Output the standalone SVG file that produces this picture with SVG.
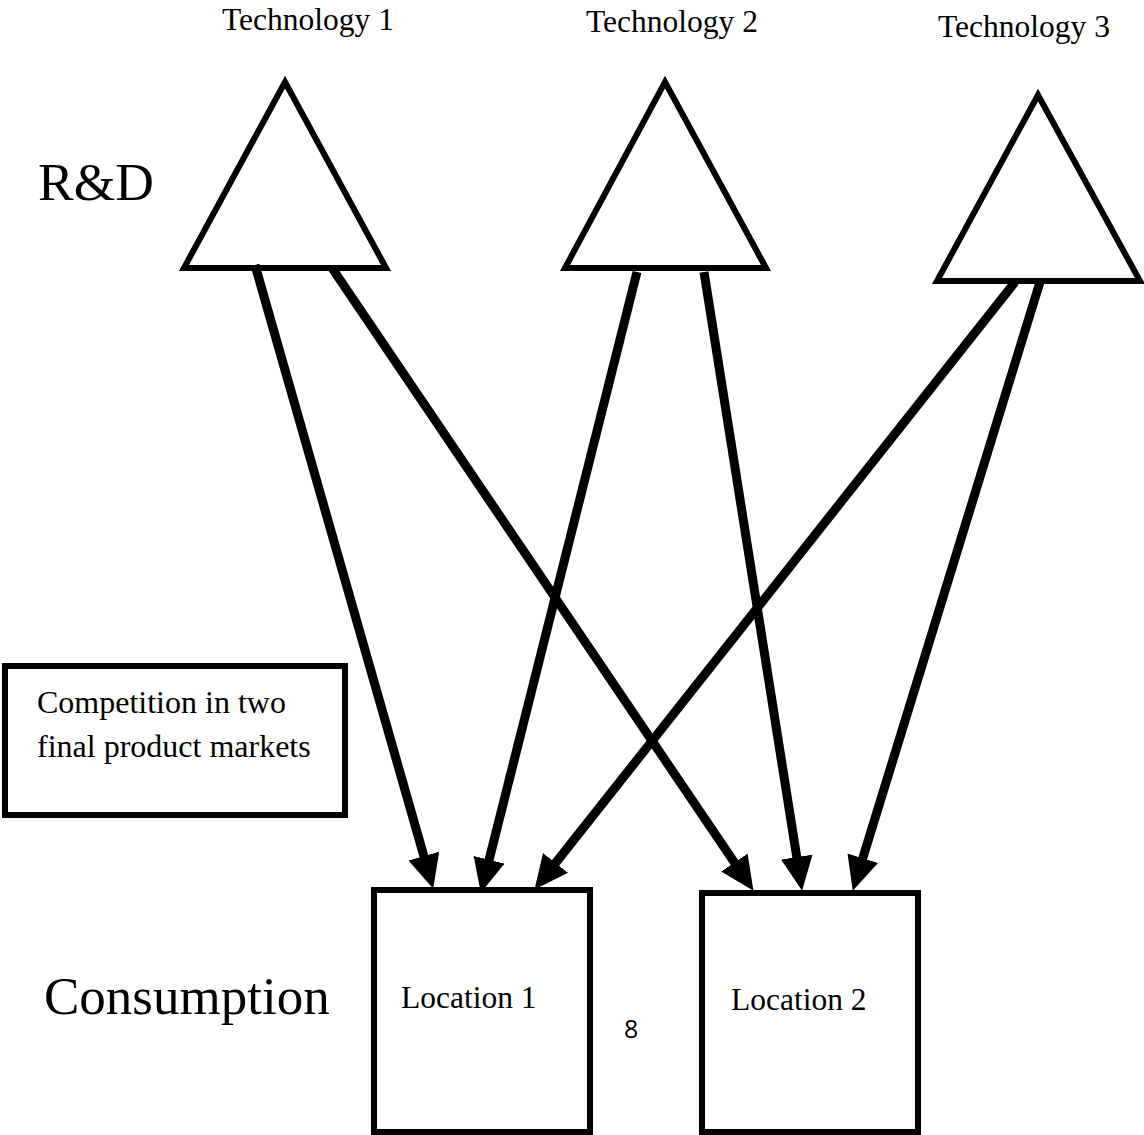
<svg xmlns="http://www.w3.org/2000/svg" width="1144" height="1135" viewBox="0 0 1144 1135">
<style>
.t{font-family:"Liberation Serif","Times New Roman",serif;fill:#000}
.s{font-size:31.5px}
.tri{fill:none;stroke:#000;stroke-width:6;stroke-linejoin:miter}
.box{fill:none;stroke:#000;stroke-width:6}
.c{fill:none;stroke:#000;stroke-width:9;marker-end:url(#ah)}
</style>
<defs>
<marker id="ah" markerUnits="userSpaceOnUse" markerWidth="34" markerHeight="32" viewBox="0 0 32 30" refX="20" refY="15" orient="auto">
<path d="M0,0 L32,15 L0,30 z" fill="#000"/>
</marker>
</defs>
<rect width="1144" height="1135" fill="#fff"/>
<text class="t s" x="222" y="30">Technology 1</text>
<text class="t s" x="586" y="32">Technology 2</text>
<text class="t s" x="938" y="37">Technology 3</text>
<text class="t" x="38" y="200" font-size="53.5">R&amp;D</text>
<text class="t" x="44" y="1014" font-size="53">Consumption</text>
<g id="tech1"><polygon class="tri" points="285,82 386,268 184,268"/></g>
<g id="tech2"><polygon class="tri" points="665,82 766,268 565,268"/></g>
<g id="tech3"><polygon class="tri" points="1038,95 1140,281 937,281"/></g>
<g id="competition"><rect class="box" x="5" y="666" width="340" height="149"/>
<text class="t" x="37" y="713" font-size="32">Competition in two</text>
<text class="t" x="37" y="757" font-size="32">final product markets</text></g>
<g id="loc1"><rect class="box" x="374" y="890" width="216" height="242"/>
<text class="t s" x="401" y="1008">Location 1</text></g>
<g id="loc2"><rect class="box" x="702" y="893" width="216" height="239"/>
<text class="t s" x="731" y="1010">Location 2</text></g>
<text x="624" y="1038" font-size="25" font-family="'Open Sans','Noto Sans',sans-serif">8</text>
<g id="connectors">
<path class="c" d="M255,265 L429.7,876.5"/>
<path class="c" d="M332,268 L746.3,880.1"/>
<path class="c" d="M637,272 L483.9,880.4"/>
<path class="c" d="M704,272 L800.1,878.1"/>
<path class="c" d="M1015,282 L542.4,879.6"/>
<path class="c" d="M1040,282 L856.5,878.5"/>
</g>
</svg>
